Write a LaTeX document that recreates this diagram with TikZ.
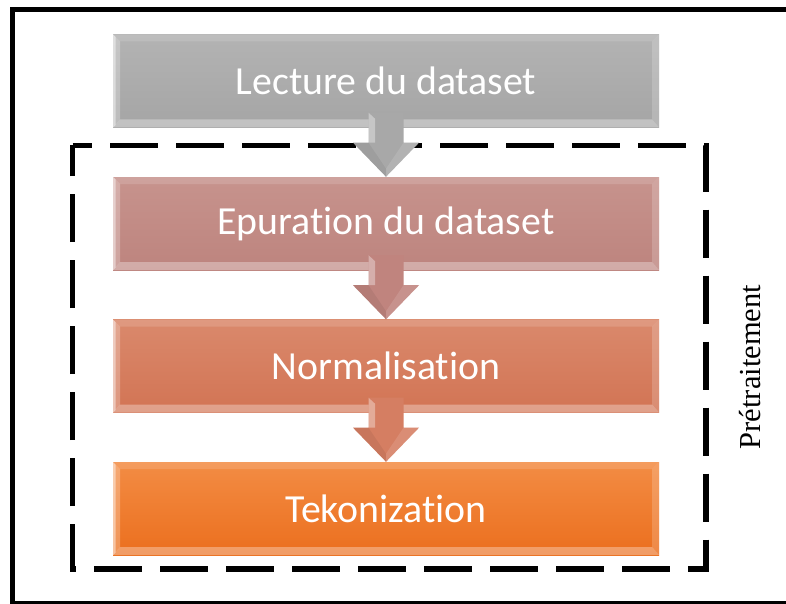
\documentclass[tikz,border=0pt]{standalone}
\usepackage{fontspec}
\setmainfont[Ligatures=NoCommon]{Carlito}
\newfontfamily\labelfont{Liberation Serif}
\usetikzlibrary{calc}

% stage colours: top / bottom of each gradient
\definecolor{greyTop}{HTML}{B3B3B3}
\definecolor{greyBot}{HTML}{A5A5A5}
\definecolor{roseTop}{HTML}{C7938D}
\definecolor{roseBot}{HTML}{BD847E}
\definecolor{salmonTop}{HTML}{DA896C}
\definecolor{salmonBot}{HTML}{D27454}
\definecolor{orangeTop}{HTML}{F38C44}
\definecolor{orangeBot}{HTML}{EB6F1E}
% arrow colours
\definecolor{greyArrow}{HTML}{A8A8A8}
\definecolor{roseArrow}{HTML}{C0847E}
\definecolor{salmonArrow}{HTML}{D57E62}

% bevelled edges of a stage box
\newcommand\stagebevel{%
  \coordinate (bnw) at (path picture bounding box.north west);
  \coordinate (bne) at (path picture bounding box.north east);
  \coordinate (bsw) at (path picture bounding box.south west);
  \coordinate (bse) at (path picture bounding box.south east);
  \fill[white,opacity=.14] (bnw) -- (bne) -- ($(bne)+(-7,-7)$) -- ($(bnw)+(7,-7)$) -- cycle;
  \fill[white,opacity=.25] (bnw) -- ($(bnw)+(7,-7)$) -- ($(bsw)+(7,8)$) -- (bsw) -- cycle;
  \fill[white,opacity=.45] (bnw) -- ($(bnw)+(2.5,-2.5)$) -- ($(bsw)+(2.5,2.5)$) -- (bsw) -- cycle;
  \fill[white,opacity=.32] (bsw) -- ($(bsw)+(7,8)$) -- ($(bse)+(-7,8)$) -- (bse) -- cycle;
  \fill[white,opacity=.18] (bne) -- ($(bne)+(-7,-7)$) -- ($(bse)+(-7,8)$) -- (bse) -- cycle;
}

% bevelled block arrow from one stage down to the next
\newcommand\stagearrow[3]{%
  \fill[#3] ($(#1.south)+(-17.5,15)$) -- ($(#1.south)+(17.5,15)$)
    -- ($(#1.south)+(17.5,-15)$) -- ($(#1.south)+(33,-15)$)
    -- (#2.north) -- ($(#1.south)+(-33,-15)$)
    -- ($(#1.south)+(-17.5,-15)$) -- cycle;
  \fill[white,opacity=.35] ($(#1.south)+(-17.5,15)$) -- ($(#1.south)+(-11,9)$)
    -- ($(#1.south)+(-11,-15)$) -- ($(#1.south)+(-17.5,-15)$) -- cycle;
  \fill[black,opacity=.06] ($(#1.south)+(-33,-15)$) -- ($(#1.south)+(-17.5,-15)$)
    -- ($(#2.north)+(0,8)$) -- (#2.north) -- cycle;
  \fill[white,opacity=.12] ($(#1.south)+(33,-15)$) -- ($(#1.south)+(17.5,-15)$)
    -- ($(#2.north)+(0,8)$) -- (#2.north) -- cycle;
}

\begin{document}
\begin{tikzpicture}[x=1pt,y=1pt,
  stage/.style={minimum width=546pt, minimum height=93pt, inner sep=0pt,
    text=white, font=\fontsize{39.8}{44}\selectfont,
    path picture={\stagebevel}},
  frame/.style={line width=5.5pt},
  group/.style={line width=5.5pt, dash pattern=on 48pt off 18pt, dash phase=28.5pt},
]
\useasboundingbox (0,0) rectangle (786,-604);
\begin{scope}
\clip (0,0) rectangle (786,-604);
\draw[frame] (12.5,-9.5) rectangle (792,-603.5);
\end{scope}

% processing stages
\node[stage, top color=greyTop, bottom color=greyBot] (read) at (386,-81) {Lecture du dataset};
\node[stage, top color=roseTop, bottom color=roseBot] (clean) at (386,-223.5) {Epuration du dataset};
\node[stage, top color=salmonTop, bottom color=salmonBot] (norm) at (386,-366) {Normalisation};
\node[stage, top color=orangeTop, bottom color=orangeBot] (token) at (386,-508.5) {Tekonization};

% preprocessing group
\draw[group] (72.5,-145.5) -- (706,-145.5) -- (706,-569) -- (72.5,-569) -- cycle;
\node[rotate=90, font=\labelfont\fontsize{30.5}{34}\selectfont] (pre) at (750,-367) {Prétraitement};

% arrows between stages
\stagearrow{read}{clean}{greyArrow}
\stagearrow{clean}{norm}{roseArrow}
\stagearrow{norm}{token}{salmonArrow}
\end{tikzpicture}
\end{document}
